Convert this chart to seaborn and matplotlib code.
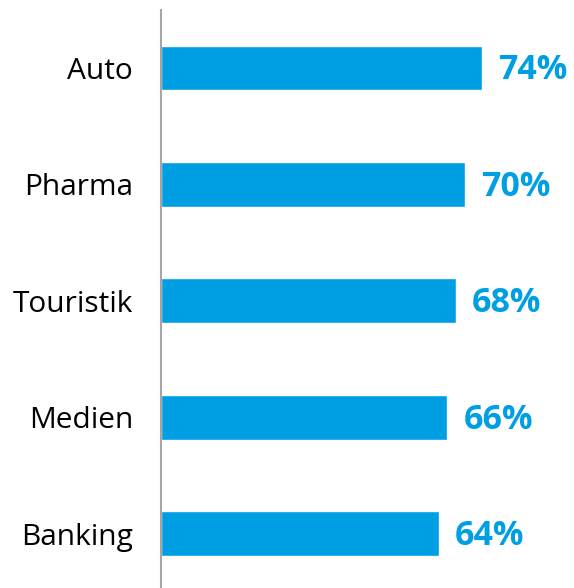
import matplotlib
matplotlib.use('Agg')
import matplotlib.pyplot as plt
import seaborn as sns
import pandas as pd

categories = ['Auto', 'Pharma', 'Touristik', 'Medien', 'Banking']
values = [74, 70, 68, 66, 64]
labels = ['74%', '70%', '68%', '66%', '64%']

blue = '#009FE3'

sns.set_theme(style='white')
plt.rcParams['font.family'] = ['Open Sans', 'DejaVu Sans']

df = pd.DataFrame({'cat': categories, 'val': values})

fig = plt.figure(figsize=(5.74, 5.88), dpi=100)
ax = fig.add_axes([0.2805, 0, 0.7195, 0.983])
sns.barplot(data=df, x='val', y='cat', color=blue, saturation=1,
            width=0.386, ax=ax)

for i, (v, t) in enumerate(zip(values, labels)):
    ax.text(v + 3.7, i + 0.02, t, color=blue, fontsize=24.5, fontweight='bold',
            va='center', ha='left')

ax.set_xlim(0, 95.2)
ax.set_ylim(4.464, -0.498)
ax.set_xlabel('')
ax.set_ylabel('')
ax.set_xticks([])
for s in ['top', 'right', 'bottom']:
    ax.spines[s].set_visible(False)
ax.spines['left'].set_color('#A6A6A6')
ax.spines['left'].set_linewidth(1.5)
ax.tick_params(axis='y', length=0, pad=20, labelsize=21.5, labelcolor='black')

fig.savefig('out.png', dpi=100)
